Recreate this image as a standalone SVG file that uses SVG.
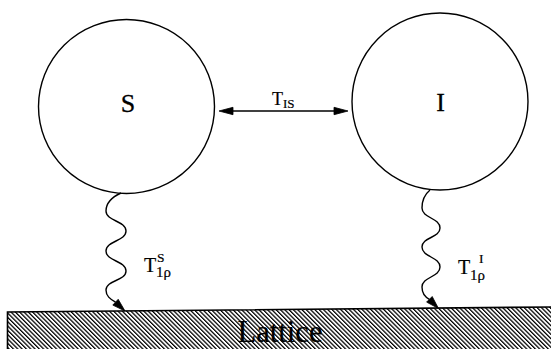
<svg xmlns="http://www.w3.org/2000/svg" width="551" height="349" viewBox="0 0 551 349">
  <style>
    .node { fill: none; stroke: #000; stroke-width: 1.4; }
    .big { font-family: "Liberation Serif", "Times New Roman", serif; font-size: 26px; fill: #000; text-anchor: middle; stroke: #000; stroke-width: 0.3; }
    .lbl { font-family: "Liberation Serif", "Times New Roman", serif; fill: #000; stroke: #000; stroke-width: 0.2; }
    .wire { fill: none; stroke: #000; stroke-width: 1.4; }
    .head { fill: #000; stroke: #000; stroke-width: 0.8; stroke-linejoin: miter; }
  </style>
  <defs>
    <pattern id="hatch" width="3.05" height="3.05" patternUnits="userSpaceOnUse" patternTransform="rotate(-45)">
      <rect x="0" y="0" width="1.25" height="3.05" fill="#000"/>
    </pattern>
  </defs>
  <rect x="0" y="0" width="551" height="349" fill="#fff"/>

  <g id="lattice">
    <polygon points="7.5,312 551,307 551,349 7.5,349" fill="url(#hatch)"/>
    <polyline points="7.5,349 7.5,312 551,307" fill="none" stroke="#000" stroke-width="1.6"/>
    <text class="lbl" x="280" y="342" font-size="31" text-anchor="middle" textLength="85" lengthAdjust="spacingAndGlyphs">Lattice</text>
  </g>

  <g id="node-S">
    <ellipse class="node" cx="126.5" cy="106.5" rx="88" ry="87"/>
    <text class="big" x="128" y="111.5">S</text>
  </g>

  <g id="node-I">
    <ellipse class="node" cx="440" cy="101.5" rx="88" ry="88.5"/>
    <text class="big" x="440.5" y="110.5">I</text>
  </g>

  <g id="connectors">
    <!-- T_IS double arrow -->
    <line class="wire" x1="230" y1="111" x2="337" y2="111"/>
    <polygon class="head" points="219,111 233,107.3 233,114.7"/>
    <polygon class="head" points="348,111 334,107.3 334,114.7"/>
    <text class="lbl" x="272" y="105" font-size="18">T</text>
    <text class="lbl" x="283" y="107.5" font-size="13">IS</text>

    <!-- S to lattice wavy -->
    <path class="wire" d="M121,193 C110,198 106,204 106,211 C106,221 126,221 126,231 C126,241 106,241 106,251 C106,261 126,261 126,271 C126,281 106,280 106,290 C106,296 110,299 115.5,302.2"/>
    <polygon class="head" points="125,311 112.8,305.1 118.2,299.3"/>
    <text class="lbl" x="144" y="272" font-size="20">T</text>
    <text class="lbl" x="157" y="262" font-size="13.5">S</text>
    <text class="lbl" x="156" y="277" font-size="15">1ρ</text>

    <!-- I to lattice wavy -->
    <path class="wire" d="M430,190 C424,195 422,201 422,208 C422,218 440,218 440,228 C440,238 422,237 422,247 C422,257 440,257 440,267 C440,277 422,277 422,287 C422,294 425,297 429.4,299.3"/>
    <polygon class="head" points="438.5,308.5 426.6,302.1 432.2,296.5"/>
    <text class="lbl" x="458" y="274" font-size="20">T</text>
    <text class="lbl" x="479" y="263" font-size="13.5">I</text>
    <text class="lbl" x="470" y="280" font-size="15">1ρ</text>
  </g>
</svg>
